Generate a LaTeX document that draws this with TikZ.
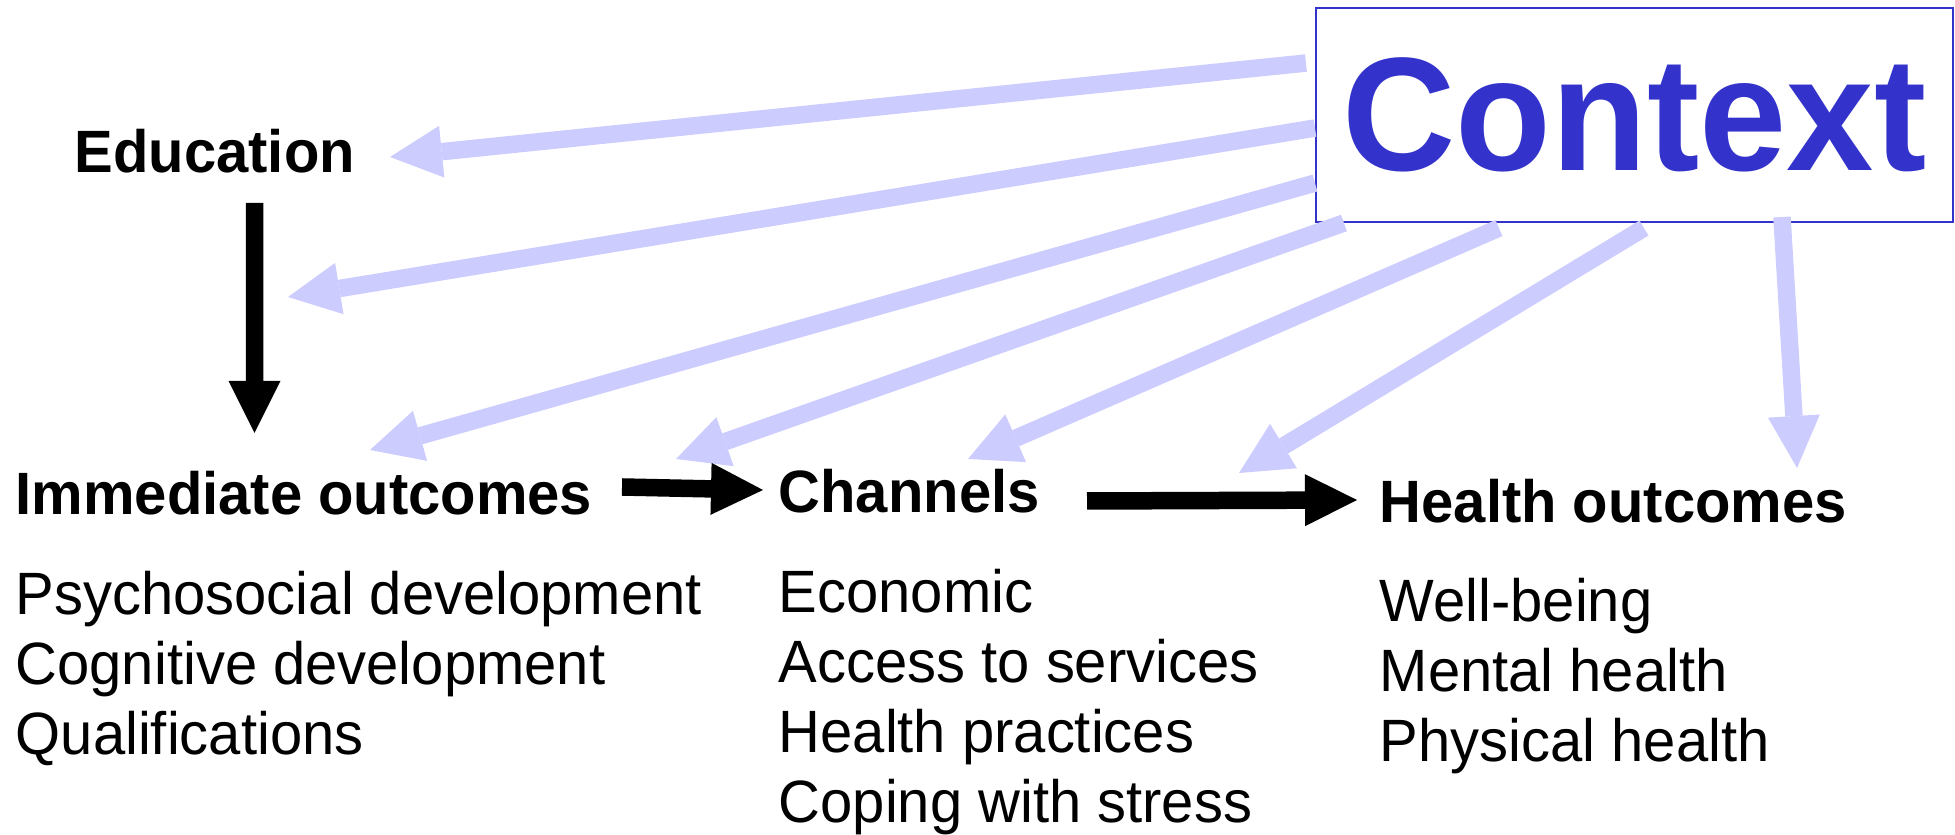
\documentclass[tikz,border=0pt]{standalone}
\usepackage{fontspec}
\setmainfont{Liberation Sans}[FakeStretch=0.97]
\usepackage{tikz}
\usetikzlibrary{calc}
\usetikzlibrary{arrows.meta}
\definecolor{ctxblue}{HTML}{3333CC}
\definecolor{ctxlight}{HTML}{CCCCFF}
\tikzset{
  heading/.style={anchor=base west, inner sep=0pt, font=\fontsize{17}{20}\selectfont\bfseries},
  item/.style={anchor=base west, inner sep=0pt, font=\fontsize{17}{20}\selectfont},
  mainarrow/.style={line width=1.75mm, -{Triangle[length=5.2mm,width=5.2mm,line width=0pt]}},
  ctxarrow/.style={mainarrow, ctxlight}}

\begin{document}
\begin{tikzpicture}
          \useasboundingbox (0,0) rectangle (19.55,8.35);

          \node[draw=ctxblue, line width=.6pt, inner sep=0pt,
                minimum width=6.37cm, minimum height=2.14cm, text=ctxblue,
                font=\fontsize{46}{50}\selectfont\bfseries] (ctx) at (16.345,7.20) {Context};

          \node[heading] (edu) at (0.74,6.62) {Education};
          \node[heading] (imm) at (0.15,3.20) {Immediate outcomes};
          \node[heading] (chan) at (7.78,3.22) {Channels};
          \node[heading] (hlth) at (13.79,3.12) {Health outcomes};

          \foreach \txt [count=\i] in {Psychosocial development, Cognitive development, Qualifications}{
            \node[item] (imm\i) at ({0.15},{2.90-0.70*\i}) {\txt};
          }
          \foreach \txt [count=\i] in {Economic, Access to services, Health practices, Coping with stress}{
            \node[item] (chan\i) at ({7.78},{2.92-0.70*\i}) {\txt};
          }
          \foreach \txt [count=\i] in {Well-being, Mental health, Physical health}{
            \node[item] (hlth\i) at ({13.79},{2.83-0.70*\i}) {\txt};
          }

          \draw[ctxarrow] ($(ctx.south west)+(-.09,1.60)$) -- ($(edu.base west)+(3.16,.16)$);
          \draw[ctxarrow] ($(ctx.south west)+(0,.95)$) -- ($(edu.base west)+(2.14,-1.24)$);
          \draw[ctxarrow] ($(ctx.south west)+(0,.40)$) -- ($(imm.base west)+(3.55,.65)$);
          \draw[ctxarrow] ($(ctx.south west)+(.29,0)$) -- ($(chan.base west)+(-1.02,.54)$);
          \draw[ctxarrow] ($(ctx.south west)+(1.84,-.05)$) -- ($(chan.base west)+(1.90,.54)$);
          \draw[ctxarrow] ($(ctx.south west)+(3.29,-.05)$) -- ($(hlth.base west)+(-1.40,.50)$);
          \draw[ctxarrow] ($(ctx.south west)+(4.67,.06)$) -- ($(hlth.base west)+(4.18,.55)$);

          \draw[mainarrow] ($(edu.base west)+(1.805,-.30)$) -- ($(imm.base west)+(2.395,.82)$);
          \draw[mainarrow] ($(imm.base west)+(6.07,.28)$) -- ($(chan.base west)+(-.15,.23)$);
          \draw[mainarrow] ($(chan.base west)+(3.09,.12)$) -- ($(hlth.base west)+(-.22,.23)$);

        \end{tikzpicture}
\end{document}
